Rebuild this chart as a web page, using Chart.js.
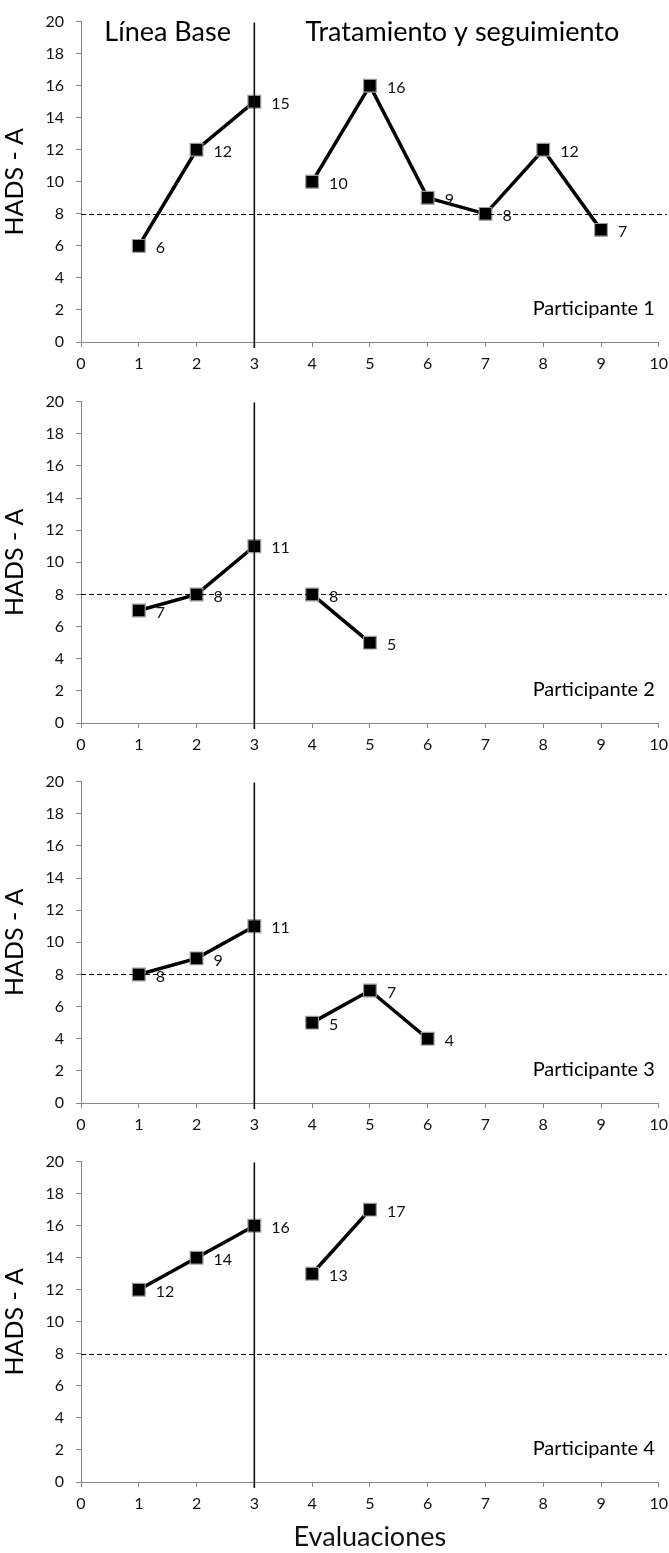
<!DOCTYPE html>
<html>
<head>
<meta charset="utf-8">
<script src="https://cdn.jsdelivr.net/npm/chart.js@4"></script>
<style>
  html, body { margin: 0; padding: 0; background: #fff; }
  .panel { position: relative; width: 669px; }
  canvas { display: block; }
</style>
</head>
<body>
<div class="panel"><canvas id="c1" width="669" height="380"></canvas></div>
<div class="panel"><canvas id="c2" width="669" height="380"></canvas></div>
<div class="panel"><canvas id="c3" width="669" height="380"></canvas></div>
<div class="panel"><canvas id="c4" width="669" height="413"></canvas></div>
<script>
// ---- Data ----
const evaluaciones = [1, 2, 3, 4, 5, 6, 7, 8, 9];
const participante1 = [6, 12, 15, null, 10, 16, 9, 8, 12, 7];
const participante2 = [7, 8, 11, null, 8, 5];
const participante3 = [8, 9, 11, null, 5, 7, 4];
const participante4 = [12, 14, 16, null, 13, 17];
// x positions (null marks the phase break between evaluation 3 and 4)
const xPositions = [1, 2, 3, 3.5, 4, 5, 6, 7, 8, 9];
const participantNames = ['Participante 1', 'Participante 2', 'Participante 3', 'Participante 4'];
const yTicks = [0, 2, 4, 6, 8, 10, 12, 14, 16, 18, 20];
const xTicks = [0, 1, 2, 3, 4, 5, 6, 7, 8, 9, 10];
const phaseChange = 3;      // vertical line at evaluation 3
const cutOff = 8;           // dashed reference line
const phaseLabels = ['Línea Base', 'Tratamiento y seguimiento'];
const phaseLabelX = [1.5, 6.6];
const yTitle = 'HADS - A';
const xTitle = 'Evaluaciones';

const FONT = 'Lato, "Open Sans", "DejaVu Sans", sans-serif';
const AXIS = '#868686';

function toPoints(vals) {
  return vals.map((v, i) => ({ x: xPositions[i], y: v }));
}

const overlay = {
  id: 'overlay',
  afterDatasetsDraw(chart, args, opts) {
    const { ctx, chartArea: a, scales: { x, y } } = chart;
    ctx.save();
    // dashed reference line at y = 8
    const yy = Math.round(y.getPixelForValue(cutOff)) + 0.5;
    ctx.strokeStyle = '#000';
    ctx.lineWidth = 1;
    ctx.setLineDash([5, 3]);
    ctx.beginPath();
    ctx.moveTo(a.left, yy);
    ctx.lineTo(a.right + 8, yy);
    ctx.stroke();
    ctx.setLineDash([]);
    // vertical phase-change line
    const xx = x.getPixelForValue(phaseChange);
    ctx.lineWidth = 1.6;
    ctx.strokeStyle = '#111';
    ctx.beginPath();
    ctx.moveTo(xx, a.top + 1);
    ctx.lineTo(xx, a.bottom + 6);
    ctx.stroke();

    // data labels
    ctx.fillStyle = '#111';
    ctx.font = '16px ' + FONT;
    ctx.textAlign = 'left';
    ctx.textBaseline = 'middle';
    const meta = chart.getDatasetMeta(0);
    const data = chart.data.datasets[0].data;
    meta.data.forEach((pt, i) => {
      const v = data[i].y;
      if (v === null || v === undefined) return;
      ctx.fillText(String(v), pt.x + 17, pt.y + 2);
    });

    // participant name
    ctx.font = '20px ' + FONT;
    ctx.textAlign = 'right';
    ctx.fillStyle = '#000';
    ctx.fillText(opts.name, a.right - 4, y.getPixelForValue(2.1));

    // phase headers (first panel only)
    if (opts.headers) {
      ctx.font = '27px ' + FONT;
      ctx.textAlign = 'center';
      ctx.textBaseline = 'middle';
      phaseLabels.forEach((t, i) => {
        ctx.fillText(t, x.getPixelForValue(phaseLabelX[i]), a.top + 11);
      });
    }
    ctx.restore();
  }
};

function makeChart(id, values, idx, topPad, xHeight, showXTitle) {
  new Chart(document.getElementById(id), {
    type: 'line',
    data: {
      datasets: [{
        data: toPoints(values),
        borderColor: '#000',
        borderWidth: 3.5,
        backgroundColor: '#000',
        pointStyle: 'rect',
        pointRadius: 9,
        pointHoverRadius: 9,
        pointBackgroundColor: '#000',
        pointBorderColor: '#9a9a9a',
        pointBorderWidth: 1.2,
        spanGaps: false,
        tension: 0
      }]
    },
    options: {
      responsive: false,
      animation: false,
      events: [],
      layout: { padding: { top: topPad, right: 6, left: 0, bottom: 0 } },
      plugins: {
        legend: { display: false },
        tooltip: { enabled: false },
        overlay: { name: participantNames[idx], headers: idx === 0 }
      },
      scales: {
        x: {
          type: 'linear',
          min: 0, max: 10,
          afterBuildTicks: s => { s.ticks = xTicks.map(v => ({ value: v })); },
          afterFit: s => { s.height = xHeight; s.paddingRight = 6; },
          ticks: { color: '#111', font: { family: FONT, size: 16 }, padding: 7, maxRotation: 0 },
          grid: { drawOnChartArea: false, drawTicks: true, tickLength: 5, color: AXIS, lineWidth: 1 },
          border: { color: AXIS, width: 1 },
          title: {
            display: showXTitle, text: xTitle, color: '#111',
            font: { family: FONT, size: 27 }, padding: { top: 12, bottom: 0 }
          }
        },
        y: {
          min: 0, max: 20,
          afterBuildTicks: s => { s.ticks = yTicks.map(v => ({ value: v })); },
          afterFit: s => { s.width = 81; },
          ticks: { color: '#111', font: { family: FONT, size: 16 }, padding: 12 },
          grid: { drawOnChartArea: false, drawTicks: true, tickLength: 5, color: AXIS, lineWidth: 1 },
          border: { color: AXIS, width: 1 },
          title: {
            display: true, text: yTitle, color: '#000',
            font: { family: FONT, size: 25 }, padding: { top: 0, bottom: 0 }
          }
        }
      }
    },
    plugins: [overlay]
  });
}

makeChart('c1', participante1, 0, 14, 38, false);
makeChart('c2', participante2, 1, 15, 37, false);
makeChart('c3', participante3, 2, 15, 37, false);
makeChart('c4', participante4, 3, 13, 71, true);
</script>
</body>
</html>
